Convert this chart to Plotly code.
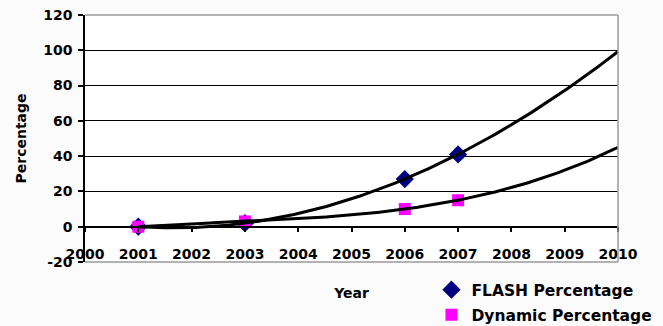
import numpy as np
import plotly.graph_objects as go

# Measured adoption shares by year
years = [2001, 2003, 2006, 2007]
flash_pct = [0, 2, 27, 41]
dynamic_pct = [0, 3, 10, 15]

y_ticks = [-20, 0, 20, 40, 60, 80, 100, 120]
y_tick_text = ["-20", "0", "20", "40", "60", "80", "100", "120"]
x_ticks = list(range(2000, 2011))

FONT = "DejaVu Sans"
y_min, y_max = -20, 120

# Cubic polynomial trendlines projected out to 2010
grid = np.linspace(2001, 2010, 200)
flash_fit = np.polyval(np.polyfit(np.array(years) - 2000, flash_pct, 3), grid - 2000)
dyn_fit = np.polyval(np.polyfit(np.array(years) - 2000, dynamic_pct, 3), grid - 2000)

fig = go.Figure()
fig.add_trace(go.Scatter(
    x=years, y=flash_pct, mode="markers", name="FLASH Percentage",
    legendgroup="flash",
    marker=dict(symbol="diamond", size=14, color="#000080"),
))
fig.add_trace(go.Scatter(
    x=years, y=dynamic_pct, mode="markers", name="Dynamic Percentage",
    legendgroup="dyn",
    marker=dict(symbol="square", size=12, color="#FF00FF"),
))
fig.add_trace(go.Scatter(
    x=grid, y=flash_fit, mode="lines", showlegend=False,
    line=dict(color="black", width=3), hoverinfo="skip",
))
fig.add_trace(go.Scatter(
    x=grid, y=dyn_fit, mode="lines", showlegend=False,
    line=dict(color="black", width=3), hoverinfo="skip",
))

# x axis sits on the zero line of the value axis
zero_pos = (0 - y_min) / (y_max - y_min)

fig.update_layout(
    width=663, height=326,
    margin=dict(l=85, r=45, t=15, b=64, autoexpand=False),
    paper_bgcolor="#fbfbfb",
    plot_bgcolor="white",
    font=dict(family=FONT, size=14, color="black"),
    xaxis=dict(
        range=[2000, 2010], tickvals=x_ticks,
        anchor="free", position=zero_pos,
        showline=True, linecolor="black", linewidth=1.5,
        ticks="outside", ticklen=5, tickcolor="black", tickwidth=1.5,
        ticklabelstandoff=10,
        showgrid=False, zeroline=False, automargin=False,
        tickfont=dict(family=FONT, size=14, weight="bold"),
        title=dict(text="<b>Year</b>", font=dict(family=FONT, size=14), standoff=26),
    ),
    yaxis=dict(
        range=[y_min, y_max], tickvals=y_ticks, ticktext=y_tick_text,
        showline=True, linecolor="black", linewidth=1.5,
        ticks="outside", ticklen=5, tickcolor="black", tickwidth=1.5,
        ticklabelstandoff=3,
        showgrid=True, gridcolor="black", gridwidth=1.3, zeroline=False,
        automargin=False,
        tickfont=dict(family=FONT, size=14, weight="bold"),
        title=dict(text="<b>Percentage</b>", font=dict(family=FONT, size=14), standoff=13),
    ),
    legend=dict(
        x=0.65, y=-0.045, xanchor="left", yanchor="top",
        bgcolor="rgba(0,0,0,0)", borderwidth=0,
        font=dict(family=FONT, size=15.5, weight="bold"),
        traceorder="grouped", tracegroupgap=2,
        itemwidth=30,
    ),
    showlegend=True,
    shapes=[
        dict(type="line", xref="paper", yref="paper", x0=0, x1=1, y0=1, y1=1,
             line=dict(color="#9a9a9a", width=1.5), layer="above"),
        dict(type="line", xref="paper", yref="paper", x0=1, x1=1, y0=0, y1=1,
             line=dict(color="#9a9a9a", width=1.5), layer="above"),
        dict(type="line", xref="paper", yref="paper", x0=0, x1=1, y0=0, y1=0,
             line=dict(color="#9a9a9a", width=1.5), layer="above"),
    ],
)

fig.write_html("out.html")
